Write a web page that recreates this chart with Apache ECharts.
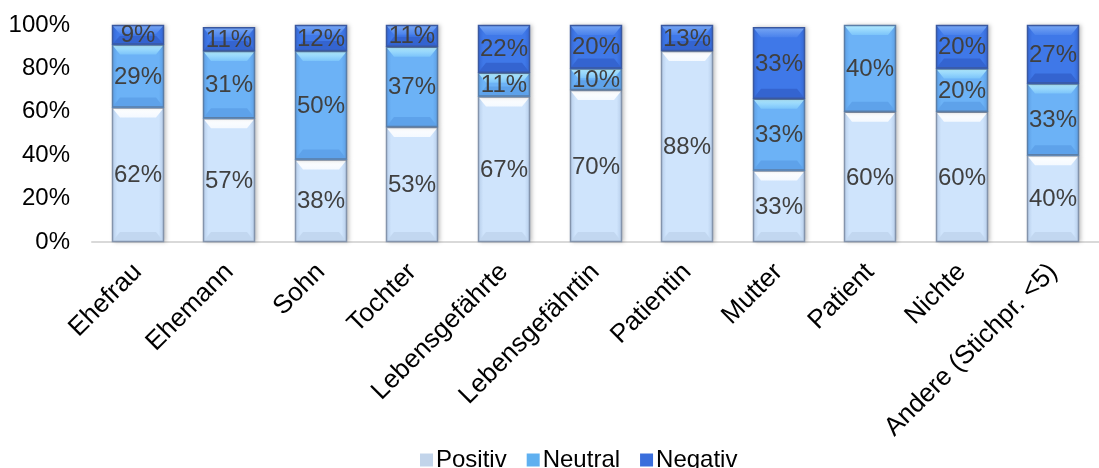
<!DOCTYPE html>
<html>
<head>
<meta charset="utf-8">
<script src="https://cdn.jsdelivr.net/npm/echarts@6/dist/echarts.min.js"></script>
<style>
  html, body { margin: 0; padding: 0; background: #ffffff; }
  #chart { width: 1099px; height: 468px; }
</style>
</head>
<body>
<div id="chart"></div>
<script>
// Relationship of the respondent and the share of each rating (in %)
const categories = ['Ehefrau', 'Ehemann', 'Sohn', 'Tochter', 'Lebensgefährte', 'Lebensgefährtin',
  'Patientin', 'Mutter', 'Patient', 'Nichte', 'Andere (Stichpr. <5)'];
const positiv = [62, 57, 38, 53, 67, 70, 88, 33, 60, 60, 40];
const neutral = [29, 31, 50, 37, 11, 10, 0, 33, 40, 20, 33];
const negativ = [9, 11, 12, 11, 22, 20, 13, 33, 0, 20, 27];
const seriesNames = ['Positiv', 'Neutral', 'Negativ'];
const yTicks = [0, 20, 40, 60, 80, 100];

const FONT = '"Liberation Sans", Arial, Helvetica, sans-serif';

// Bevelled look for each rating
const palettes = [
  { mid: '#cfe4fc', edge: '#b4cbe8', top: '#ffffff', topEnd: '#f4f9ff', bottom: '#c2d7f0', border: '#8494ac', legend: '#c2d4ea' },
  { mid: '#6cb2f6', edge: '#5b9de3', top: '#b4ecff', topEnd: '#7cc4fa', bottom: '#5ea2ea', border: '#5a7ea8', legend: '#5fb0f0' },
  { mid: '#3f78e8', edge: '#3466d2', top: '#79a8f4', topEnd: '#4a82ec', bottom: '#3464d0', border: '#3a58a0', legend: '#3a6edc' }
];

// Stack the three ratings: each item is [category, from, to, value]
const valueSets = [positiv, neutral, negativ];
const stacked = valueSets.map(() => []);
categories.forEach((c, i) => {
  let base = 0;
  valueSets.forEach((vals, s) => {
    stacked[s].push([i, base, base + vals[i], vals[i]]);
    base += vals[i];
  });
});

function makeRender(pal) {
  return function (params, api) {
    const i = api.value(0);
    const lo = api.value(1);
    const hi = Math.min(api.value(2), yTicks[yTicks.length - 1]);
    const v = api.value(3);
    if (!(v > 0)) return null;
    const pb = api.coord([i, lo]);
    const pt = api.coord([i, hi]);
    const w = Math.round(api.size([1, 0])[0] * 0.57);
    const x = Math.round(pb[0] - w / 2);
    const y = pt[1];
    const h = pb[1] - pt[1];
    const bv = Math.min(10, h / 2.2);
    const bx = 8;
    return {
      type: 'group',
      children: [
        {
          type: 'rect',
          shape: { x: x, y: y, width: w, height: h },
          style: {
            fill: {
              type: 'linear', x: 0, y: 0, x2: 1, y2: 0,
              colorStops: [
                { offset: 0, color: pal.edge },
                { offset: 0.1, color: pal.mid },
                { offset: 0.9, color: pal.mid },
                { offset: 1, color: pal.edge }
              ]
            },
            shadowBlur: 4, shadowOffsetX: 2, shadowColor: 'rgba(0,0,0,0.25)'
          }
        },
        {
          type: 'polygon',
          shape: { points: [[x, y], [x + w, y], [x + w - bx, y + bv], [x + bx, y + bv]] },
          style: {
            fill: {
              type: 'linear', x: 0, y: 0, x2: 0, y2: 1,
              colorStops: [{ offset: 0, color: pal.top }, { offset: 1, color: pal.topEnd }]
            }
          }
        },
        {
          type: 'polygon',
          shape: { points: [[x, y + h], [x + w, y + h], [x + w - bx, y + h - bv], [x + bx, y + h - bv]] },
          style: { fill: pal.bottom }
        },
        {
          type: 'rect',
          shape: { x: x + 0.5, y: y + 0.5, width: w - 1, height: h - 1 },
          style: { fill: 'none', stroke: pal.border, lineWidth: 1.5 }
        },
        {
          type: 'text',
          z2: 100,
          style: {
            text: v + '%',
            x: x + w / 2,
            y: y + h / 2 + 1,
            align: 'center',
            verticalAlign: 'middle',
            fill: '#404040',
            font: '24px ' + FONT
          }
        }
      ]
    };
  };
}

const chart = echarts.init(document.getElementById('chart'), null, { renderer: 'canvas' });

chart.setOption({
  animation: false,
  backgroundColor: '#ffffff',
  textStyle: { fontFamily: FONT },
  grid: { left: 92, top: 25, width: 1025, height: 217, containLabel: false },
  legend: {
    data: seriesNames,
    left: 415,
    top: 443,
    icon: 'rect',
    itemWidth: 13,
    itemHeight: 13,
    itemGap: 20,
    textStyle: { fontSize: 24, color: '#000000', fontFamily: FONT, padding: [0, 0, 0, -2] }
  },
  xAxis: {
    type: 'category',
    data: categories,
    axisTick: { show: false },
    axisLine: { lineStyle: { color: '#d9d9d9', width: 2 } },
    axisLabel: {
      interval: 0,
      rotate: 45,
      margin: 26,
      fontSize: 26,
      color: '#000000',
      fontFamily: FONT
    }
  },
  yAxis: {
    type: 'value',
    min: yTicks[0],
    max: yTicks[yTicks.length - 1],
    interval: yTicks[1] - yTicks[0],
    axisLine: { show: false },
    axisTick: { show: false },
    splitLine: { show: false },
    axisLabel: {
      formatter: '{value}%',
      margin: 22,
      fontSize: 24,
      color: '#000000',
      fontFamily: FONT
    }
  },
  series: seriesNames.map((name, s) => ({
    name: name,
    type: 'custom',
    renderItem: makeRender(palettes[s]),
    itemStyle: { color: palettes[s].legend },
    encode: { x: 0, y: [1, 2] },
    data: stacked[s]
  }))
});
</script>
</body>
</html>
